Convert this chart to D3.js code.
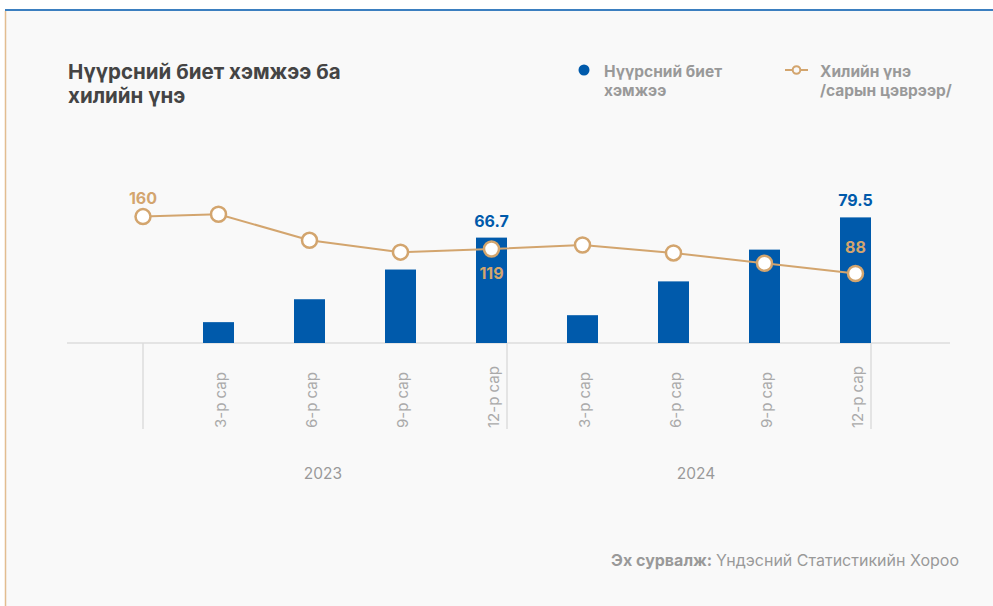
<!DOCTYPE html>
<html>
<head>
<meta charset="utf-8">
<script src="https://cdn.jsdelivr.net/npm/d3@7"></script>
<style>
  body { margin: 0; background: #fff; font-family: Inter, "Noto Sans", sans-serif; }
  svg { display: block; }
</style>
</head>
<body>
<svg id="chart" width="993" height="606"></svg>
<script>
(function () {
  'use strict';

  // data
  var periods = ["3-р сар", "6-р сар", "9-р сар", "12-р сар", "3-р сар", "6-р сар", "9-р сар", "12-р сар"];
  var years = ["2023", "2024"];
  var volume = [13.2, 27.7, 46.5, 66.7, 17.6, 39.0, 59.1, 79.5];     // нүүрсний биет хэмжээ
  var priceStart = 160;                                              // эхлэх цэг (2022 оны сүүл)
  var price = [163, 130, 115, 119, 124, 114, 101, 88];               // хилийн үнэ
  var volumeLabelIdx = [3, 7];
  var priceLabels = [{ i: -1, dy: -13 }, { i: 3, dy: 30 }, { i: 7, dy: -20 }];

  var blue = "#005AAB";
  var tan = "#D3A56E";
  var gray = "#999";

  var svg = d3.select("#chart");

  // frame
  svg.append("rect").attr("x", 5).attr("y", 9).attr("width", 988).attr("height", 597).attr("fill", "#f9f9f9");
  svg.append("line").attr("x1", 5).attr("x2", 993).attr("y1", 10).attr("y2", 10)
    .attr("stroke", "#3b7fc0").attr("stroke-width", 2);
  svg.append("line").attr("x1", 5.5).attr("x2", 5.5).attr("y1", 11).attr("y2", 606)
    .attr("stroke", "#e2bd90").attr("stroke-width", 1.5);

  // title
  var title = svg.append("text").attr("x", 68).attr("y", 79)
    .style("font-size", "20.5px").style("font-weight", "bold").attr("fill", "#444");
  title.append("tspan").attr("x", 68).text("Нүүрсний биет хэмжээ ба");
  title.append("tspan").attr("x", 68).attr("dy", 24).text("хилийн үнэ");

  // legend
  svg.append("circle").attr("cx", 584).attr("cy", 70).attr("r", 5.5).attr("fill", blue);
  var l1 = svg.append("text").attr("x", 604).attr("y", 77)
    .style("font-size", "15.5px").style("font-weight", "bold").attr("fill", gray);
  l1.append("tspan").attr("x", 604).text("Нүүрсний биет");
  l1.append("tspan").attr("x", 604).attr("dy", 19).text("хэмжээ");

  svg.append("line").attr("x1", 785).attr("x2", 808).attr("y1", 70).attr("y2", 70)
    .attr("stroke", tan).attr("stroke-width", 2);
  svg.append("circle").attr("cx", 796.5).attr("cy", 70).attr("r", 3.8)
    .attr("fill", "#f9f9f9").attr("stroke", tan).attr("stroke-width", 2);
  var l2 = svg.append("text").attr("x", 820).attr("y", 77)
    .style("font-size", "15.5px").style("font-weight", "bold").attr("fill", gray);
  l2.append("tspan").attr("x", 820).text("Хилийн үнэ");
  l2.append("tspan").attr("x", 820).attr("dy", 19).text("/сарын цэврээр/");

  // scales
  var plotTop = 185, baseY = 343;
  var x = d3.scaleBand().domain(d3.range(periods.length)).range([143, 871]).padding(0);
  var bw = x.bandwidth();
  var barW = 31;
  var cx = function (i) { return i < 0 ? x.range()[0] : x(i) + bw - barW / 2; };

  var yVol = d3.scaleLinear().domain([0, 100]).range([baseY, plotTop]);
  var yPrice = d3.scaleLinear().domain([0, 200]).range([baseY, plotTop]);

  // axis + separators
  svg.append("line").attr("x1", 67).attr("x2", 950).attr("y1", baseY).attr("y2", baseY)
    .attr("stroke", "#ddd").attr("stroke-width", 1.5);

  var perYear = periods.length / years.length;
  var seps = d3.range(years.length + 1).map(function (g) {
    return g === years.length ? x.range()[1] : x(g * perYear);
  });
  svg.selectAll("line.sep").data(seps).enter().append("line").attr("class", "sep")
    .attr("x1", function (d) { return d; }).attr("x2", function (d) { return d; })
    .attr("y1", baseY).attr("y2", 429)
    .attr("stroke", "#ddd").attr("stroke-width", 1.5);

  // bars
  svg.selectAll("rect.bar").data(volume).enter().append("rect").attr("class", "bar")
    .attr("x", function (d, i) { return x(i) + bw - barW; })
    .attr("width", barW)
    .attr("y", function (d) { return yVol(d); })
    .attr("height", function (d) { return baseY - yVol(d); })
    .attr("fill", blue);

  // period labels
  svg.selectAll("text.period").data(periods).enter().append("text").attr("class", "period")
    .attr("transform", function (d, i) { return "translate(" + (cx(i) + 2) + "," + 428 + ") rotate(-90)"; })
    .attr("dy", "0.35em")
    .style("font-size", "15px").attr("fill", "#aaa")
    .text(function (d) { return d; });

  // year labels
  svg.selectAll("text.year").data(years).enter().append("text").attr("class", "year")
    .attr("x", function (d, g) { return (seps[g] + seps[g + 1]) / 2 + (g === 0 ? -2 : 7); })
    .attr("y", 479)
    .attr("text-anchor", "middle")
    .style("font-size", "15.5px").attr("fill", gray)
    .text(function (d) { return d; });

  // price line
  var pts = [{ i: -1, v: priceStart }].concat(price.map(function (v, i) { return { i: i, v: v }; }));
  var line = d3.line().x(function (d) { return cx(d.i); }).y(function (d) { return yPrice(d.v); });
  svg.append("path").datum(pts).attr("d", line)
    .attr("fill", "none").attr("stroke", tan).attr("stroke-width", 2);
  svg.selectAll("circle.pt").data(pts).enter().append("circle").attr("class", "pt")
    .attr("cx", function (d) { return cx(d.i); })
    .attr("cy", function (d) { return yPrice(d.v); })
    .attr("r", 7.5)
    .attr("fill", "#fff").attr("stroke", tan).attr("stroke-width", 2.5);

  // value labels
  svg.selectAll("text.vlab").data(volumeLabelIdx).enter().append("text").attr("class", "vlab")
    .attr("x", function (i) { return cx(i); })
    .attr("y", function (i) { return yVol(volume[i]) - 11; })
    .attr("text-anchor", "middle")
    .style("font-size", "16px").style("font-weight", "bold").attr("fill", blue)
    .text(function (i) { return volume[i]; });

  svg.selectAll("text.plab").data(priceLabels).enter().append("text").attr("class", "plab")
    .attr("x", function (d) { return cx(d.i); })
    .attr("y", function (d) { return yPrice(d.i < 0 ? priceStart : price[d.i]) + d.dy; })
    .attr("text-anchor", "middle")
    .style("font-size", "16px").style("font-weight", "bold").attr("fill", tan)
    .text(function (d) { return d.i < 0 ? priceStart : price[d.i]; });

  // source
  var src = svg.append("text").attr("x", 959).attr("y", 566).attr("text-anchor", "end")
    .style("font-size", "16px").attr("fill", gray);
  src.append("tspan").style("font-weight", "bold").text("Эх сурвалж: ");
  src.append("tspan").text("Үндэсний Статистикийн Хороо");
}());
</script>
</body>
</html>
